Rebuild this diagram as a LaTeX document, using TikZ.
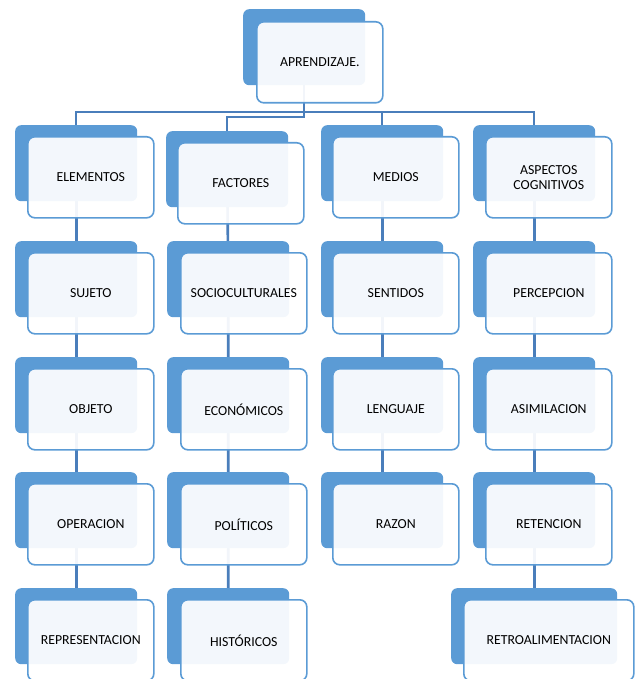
\documentclass[tikz,border=0pt]{standalone}
\usepackage{fontspec}
\setmainfont{Carlito}
\usetikzlibrary{backgrounds}
\definecolor{cardblue}{HTML}{5B9BD5}
\definecolor{linkblue}{HTML}{4A7EBB}
\tikzset{
  backcard/.style={fill=cardblue, rounded corners=6pt, inner sep=0pt,
    minimum width=122pt, minimum height=76pt, anchor=north west},
  card/.style={draw=cardblue, line width=1.6pt, fill=white, fill opacity=0.93,
    text opacity=1, text=black, rounded corners=7pt, inner sep=0pt,
    minimum width=126pt, minimum height=81pt, anchor=north west, align=center,
    font=\fontsize{13.8}{15}\selectfont},
  link/.style={draw=linkblue, line width=2.6pt}
}
\begin{document}
\begin{tikzpicture}[x=1pt, y=-1pt]
\useasboundingbox (0,0) rectangle (637,679);

% back boxes
\node[backcard] (apr-b) at (243,9) {};
\node[backcard] (elem-b) at (15,125) {};
\node[backcard] (fact-b) at (166,131) {};
\node[backcard] (med-b) at (321,125) {};
\node[backcard] (asp-b) at (473,125) {};

\node[backcard] (suj-b) at (15,241) {};
\node[backcard] (soc-b) at (167,241) {};
\node[backcard] (sen-b) at (321,241) {};
\node[backcard] (per-b) at (473,241) {};

\node[backcard] (obj-b) at (15,357) {};
\node[backcard] (eco-b) at (167,357) {};
\node[backcard] (len-b) at (321,357) {};
\node[backcard] (asi-b) at (473,357) {};

\node[backcard] (ope-b) at (15,472) {};
\node[backcard] (pol-b) at (167,472) {};
\node[backcard] (raz-b) at (321,472) {};
\node[backcard] (ret-b) at (473,472) {};

\node[backcard] (rep-b) at (15,588) {};
\node[backcard] (his-b) at (167,588) {};
\node[backcard, minimum width=166pt] (retro-b) at (451,588) {};

% connectors, behind the boxes
\coordinate (busA) at (0,112);
\coordinate (busB) at (0,117);
\begin{scope}[on background layer]
\draw[link, line width=2.2pt] (apr-b.center) -- (apr-b.center |- busA) -| (elem-b.center);
\draw[link, line width=2.2pt] (apr-b.center |- busA) -| (med-b.center);
\draw[link, line width=2.2pt] (apr-b.center |- busA) -| (asp-b.center);
\draw[link, line width=2.2pt] (apr-b.center) -- (apr-b.center |- busB) -| (fact-b.center);

\draw[link] (elem-b.center) -- (suj-b.center) -- (obj-b.center) -- (ope-b.center) -- (rep-b.center);
\draw[link] (fact-b.center) -- (soc-b.center) -- (eco-b.center) -- (pol-b.center) -- (his-b.center);
\draw[link] (med-b.center) -- (sen-b.center) -- (len-b.center) -- (raz-b.center);
\draw[link] (asp-b.center) -- (per-b.center) -- (asi-b.center) -- (ret-b.center) -- (retro-b.center);
\end{scope}

% front boxes
\node[card] (apr) at (256,21) {APRENDIZAJE.};
\node[card] (elem) at (27,136) {ELEMENTOS};
\node[card] (fact) at (177,142) {FACTORES};
\node[card] (med) at (332,136) {MEDIOS};
\node[card] (asp) at (485,136) {ASPECTOS\\COGNITIVOS};

\node[card] (suj) at (27,252) {SUJETO};
\node[card] (soc) at (180,252) {SOCIOCULTURALES};
\node[card] (sen) at (332,252) {SENTIDOS};
\node[card] (per) at (485,252) {PERCEPCION};

\node[card] (obj) at (27,368) {OBJETO};
\node[card] (eco) at (180,368) {ECONÓMICOS};
\node[card] (len) at (332,368) {LENGUAJE};
\node[card] (asi) at (485,368) {ASIMILACION};

\node[card] (ope) at (27,483) {OPERACION};
\node[card] (pol) at (180,483) {POLÍTICOS};
\node[card] (raz) at (332,483) {RAZON};
\node[card] (ret) at (485,483) {RETENCION};

\node[card] (rep) at (27,599) {REPRESENTACION};
\node[card] (his) at (180,599) {HISTÓRICOS};
\node[card, minimum width=170pt] (retro) at (463,599) {RETROALIMENTACION};
\end{tikzpicture}
\end{document}
